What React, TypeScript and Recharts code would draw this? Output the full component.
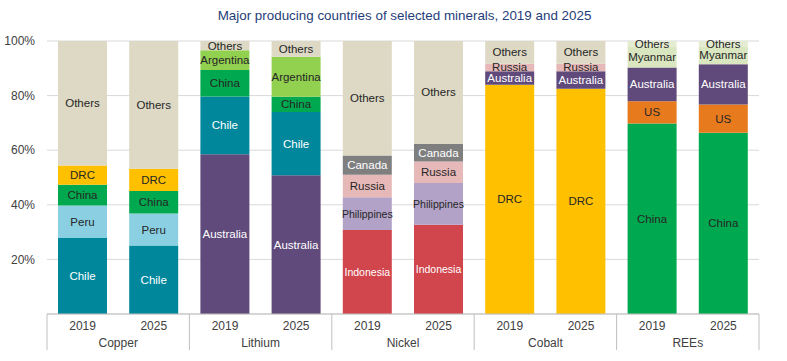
import React from 'react';
import { BarChart, Bar, XAxis, YAxis, CartesianGrid, Cell, LabelList } from 'recharts';

const minerals = ['Copper', 'Lithium', 'Nickel', 'Cobalt', 'REEs'];
const years = ['2019', '2025'];

const copperNames = ['Chile', 'Peru', 'China', 'DRC', 'Others'];
const copper2019 = [27.8, 11.9, 7.6, 7.1, 45.6];
const copper2025 = [25.1, 11.7, 8.3, 8.1, 46.8];

const lithiumNames = ['Australia', 'Chile', 'China', 'Argentina', 'Others'];
const lithium2019 = [58.5, 21.2, 9.7, 7.2, 3.4];
const lithium2025 = [50.8, 23.2, 5.6, 14.6, 5.8];

const nickelNames = ['Indonesia', 'Philippines', 'Russia', 'Canada', 'Others'];
const nickel2019 = [30.8, 12.0, 8.2, 7.1, 41.9];
const nickel2025 = [32.7, 15.3, 7.9, 6.4, 37.7];

const cobaltNames = ['DRC', 'Australia', 'Russia', 'Others'];
const cobalt2019 = [84.0, 4.9, 2.8, 8.3];
const cobalt2025 = [82.5, 6.4, 2.8, 8.3];

const reeNames = ['China', 'US', 'Australia', 'Myanmar', 'Others'];
const ree2019 = [69.8, 8.1, 12.4, 7.7, 2.0];
const ree2025 = [66.4, 10.3, 14.8, 6.5, 2.0];

const yTicks = [0, 20, 40, 60, 80, 100];

const groups = [
  { names: copperNames, values: [copper2019, copper2025] },
  { names: lithiumNames, values: [lithium2019, lithium2025] },
  { names: nickelNames, values: [nickel2019, nickel2025] },
  { names: cobaltNames, values: [cobalt2019, cobalt2025] },
  { names: reeNames, values: [ree2019, ree2025] },
];

const colors: Record<string, string> = {
  Others: '#ddd9c4',
  Chile: '#00879c',
  Peru: '#8ad0e2',
  China: '#00a94f',
  DRC: '#ffc000',
  Australia: '#604a7b',
  Argentina: '#92d050',
  Indonesia: '#d1454c',
  Philippines: '#b3a2c7',
  Russia: '#e6b9b8',
  Canada: '#7f7f7f',
  US: '#e87a1e',
  Myanmar: '#d9e6bf',
};
const lightText = ['Chile', 'Australia', 'Indonesia', 'Canada'];

type Row = { year: string; mineral: string; names: string[]; [k: string]: any };

const SEGMENTS = 5;

const rows: Row[] = [];
groups.forEach((g, gi) => {
  years.forEach((yr, yi) => {
    const row: Row = { year: yr, mineral: minerals[gi], names: g.names };
    for (let k = 0; k < SEGMENTS; k++) {
      row[`s${k}`] = g.values[yi][k] ?? 0;
      row[`n${k}`] = g.names[k] ?? '';
    }
    rows.push(row);
  });
});

const W = 787;
const H = 361;
const PLOT_LEFT = 47;
const PLOT_RIGHT = 759;
const PLOT_TOP = 41;
const AXIS_Y = 314;
const BAND = (PLOT_RIGHT - PLOT_LEFT) / rows.length;
const FONT = '"Liberation Sans", Arial, sans-serif';

function colorFor(row: Row, k: number): string {
  const name = row.names[k];
  if (name === 'Others' && row.mineral === 'REEs') return '#e4ebd0';
  return colors[name] ?? 'transparent';
}

function SegLabel(props: any) {
  const { x, y, width, height, value } = props;
  const name = String(value ?? '');
  if (!name || !height) return null;
  const small = name === 'Philippines' || name === 'Indonesia';
  return (
    <text
      x={Number(x) + Number(width) / 2}
      y={Number(y) + Number(height) / 2}
      textAnchor="middle"
      dominantBaseline="central"
      fontSize={small ? 10.5 : 11.5}
      fontFamily={FONT}
      fill={lightText.includes(name) ? '#ffffff' : '#262626'}
    >
      {name}
    </text>
  );
}

function CategoryTick(props: any) {
  const { x, payload } = props;
  const i = payload.index as number;
  const row = rows[i];
  const left = x - BAND / 2;
  const right = x + BAND / 2;
  return (
    <g>
      <text x={x} y={AXIS_Y + 12} textAnchor="middle" dominantBaseline="central" fontSize={12} fontFamily={FONT} fill="#404040">
        {row.year}
      </text>
      {i % 2 === 0 && (
        <>
          <line x1={left} x2={left} y1={AXIS_Y} y2={AXIS_Y + 36} stroke="#bfbfbf" />
          <text x={right} y={AXIS_Y + 29} textAnchor="middle" dominantBaseline="central" fontSize={12} fontFamily={FONT} fill="#404040">
            {row.mineral}
          </text>
        </>
      )}
      {i === rows.length - 1 && (
        <line x1={right} x2={right} y1={AXIS_Y} y2={AXIS_Y + 36} stroke="#bfbfbf" />
      )}
    </g>
  );
}

export default function App() {
  return (
    <div style={{ position: 'absolute', left: 0, top: 0, width: W, height: H, background: '#fff', fontFamily: FONT }}>
      <div
        style={{
          position: 'absolute',
          top: 8,
          left: 0,
          width: W,
          textAlign: 'center',
          fontSize: 13.4,
          color: '#1f3d7a',
          paddingLeft: 22,
          boxSizing: 'border-box',
        }}
      >
        Major producing countries of selected minerals, 2019 and 2025
      </div>
      <BarChart
        width={W}
        height={H}
        data={rows}
        margin={{ top: PLOT_TOP, right: W - PLOT_RIGHT, left: 0, bottom: 0 }}
        barSize={49}
      >
        <CartesianGrid vertical={false} stroke="#d9d9d9" />
        <XAxis
          dataKey="year"
          interval={0}
          height={H - AXIS_Y}
          axisLine={{ stroke: '#bfbfbf' }}
          tickLine={false}
          tick={<CategoryTick />}
        />
        <YAxis
          width={PLOT_LEFT}
          domain={[0, 100]}
          ticks={yTicks}
          allowDataOverflow
          axisLine={false}
          tickLine={false}
          tickMargin={6}
          tick={{ fontSize: 12, fill: '#404040', fontFamily: FONT }}
          tickFormatter={(v) => (v === 0 ? '' : `${v}%`)}
        />
        {Array.from({ length: SEGMENTS }, (_, k) => (
          <Bar key={k} dataKey={`s${k}`} stackId="a" isAnimationActive={false}>
            {rows.map((r, i) => (
              <Cell key={i} fill={colorFor(r, k)} />
            ))}
            <LabelList dataKey={`n${k}`} content={<SegLabel />} />
          </Bar>
        ))}
      </BarChart>
    </div>
  );
}
